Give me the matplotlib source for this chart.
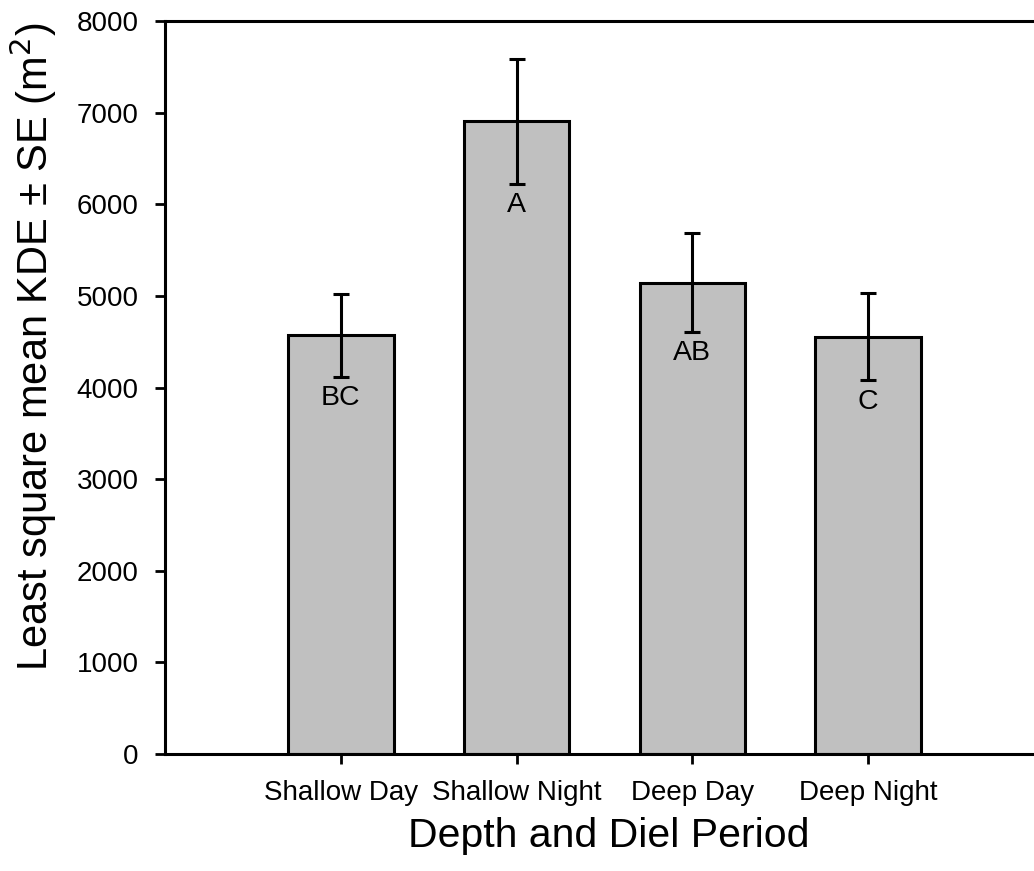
import numpy as np
import matplotlib
matplotlib.use('Agg')
import matplotlib.pyplot as plt

plt.rcParams['font.family'] = ['Liberation Sans', 'DejaVu Sans']

# least square means of KDE area by depth / diel period
groups = ['Shallow Day', 'Shallow Night', 'Deep Day', 'Deep Night']
lsmean = [4570, 6905, 5145, 4555]
se = [450, 685, 537, 477]
letters = ['BC', 'A', 'AB', 'C']

fig = plt.figure(figsize=(10.34, 8.71), dpi=100)
ax = fig.add_axes([0.1596, 0.1343, 0.8501, 0.8416])

x = np.arange(len(groups))
ax.bar(x, lsmean, width=0.6, color='#c0c0c0', edgecolor='black',
       linewidth=2.2, zorder=2)
ax.errorbar(x, lsmean, yerr=se, fmt='none', ecolor='black',
            elinewidth=2.2, capsize=6, capthick=2.2, zorder=3)

# significance letters just under the lower error cap
for xi, m, s, lab in zip(x, lsmean, se, letters):
    ax.annotate(lab, (xi, m - s), xytext=(0, -6), textcoords='offset points',
                ha='center', va='top', fontsize=20.5, zorder=4)

ax.set_xlim(-1, 4)
ax.set_ylim(0, 8000)
ax.set_xticks(x)
ax.set_xticklabels(groups)
ax.set_yticks(np.arange(0, 8001, 1000))

for side in ['left', 'bottom', 'top']:
    ax.spines[side].set_linewidth(2.2)
ax.spines['right'].set_visible(False)

ax.tick_params(axis='both', direction='out', length=7, width=2,
               labelsize=20, top=False, right=False)
ax.tick_params(axis='y', pad=12)
ax.tick_params(axis='x', pad=12)

ax.set_xlabel('Depth and Diel Period', fontsize=29.5)
ax.set_ylabel('Least square mean KDE \u00b1 SE (m$^2$)', fontsize=30)
ax.xaxis.set_label_coords(0.505, -0.086)
ax.yaxis.set_label_coords(-0.121, 0.556)

fig.savefig('out.png', dpi=100)
